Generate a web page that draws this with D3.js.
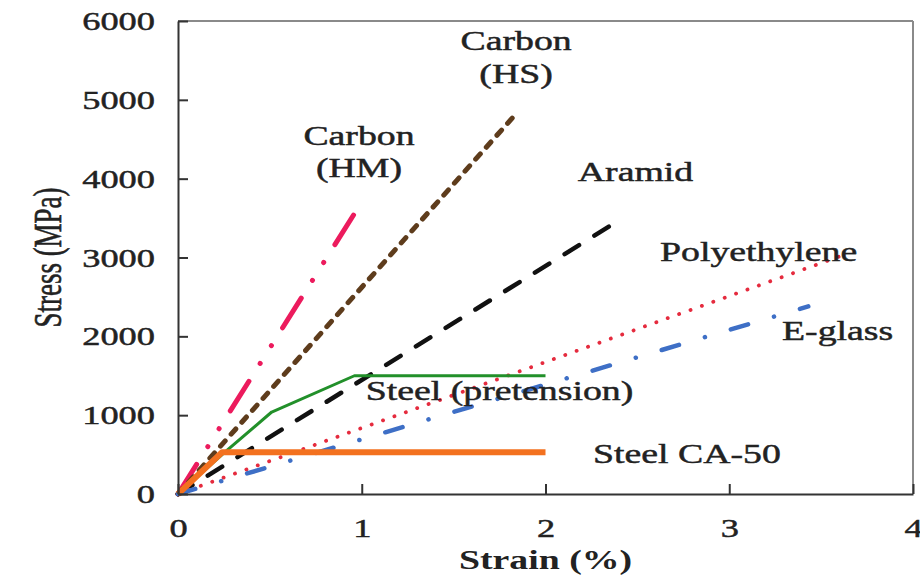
<!doctype html>
<html>
  <head>
    <script src="https://cdnjs.cloudflare.com/ajax/libs/d3/7.8.5/d3.min.js"></script>
    <style>
      body { margin: 0; background: #fff; }
      svg text { font-family: "Liberation Serif", "Times New Roman", serif; fill: #222; }
      text.heavy { stroke: #222; stroke-width: 0.45px; }
    </style>
  </head>
  <body>
    <svg id="chart" width="920" height="577"></svg>
    <script>
      // stress-strain curves, strain in %, stress in MPa
      var carbonHM = [[0, 0], [0.98, 3630]];
      var carbonHS = [[0, 0], [1.85, 4850]];
      var aramid = [[0, 0], [2.42, 3500]];
      var polyethylene = [[0, 0], [3.62, 3030]];
      var eGlass = [[0, 0], [3.43, 2380]];
      var steelPretension = [[0, 0], [0.26, 540], [0.51, 1040], [0.96, 1500], [2.0, 1500]];
      var steelCA50 = [[0, 0], [0.24, 530], [2.0, 530]];

      var xTicks = [0, 1, 2, 3, 4];
      var yTicks = [0, 1000, 2000, 3000, 4000, 5000, 6000];

      // annotation text, anchored in data units (x centre, baseline)
      var labels = [
        {text: "Carbon", x: 1.84, y: 5630},
        {text: "(HS)", x: 1.84, y: 5210},
        {text: "Carbon", x: 0.985, y: 4430},
        {text: "(HM)", x: 0.985, y: 4020},
        {text: "Aramid", x: 2.49, y: 3970},
        {text: "Polyethylene", x: 3.16, y: 2960},
        {text: "E-glass", x: 3.59, y: 1955},
        {text: "Steel (pretension)", x: 1.75, y: 1190},
        {text: "Steel CA-50", x: 2.77, y: 395}
      ];

      var margin = {top: 21, right: 7, bottom: 83, left: 178};
      var width = 920 - margin.left - margin.right,
          height = 577 - margin.top - margin.bottom;
      var stretch = 1.4;

      var svg = d3.select("#chart");
      var g = svg.append("g")
          .attr("transform", `translate(${margin.left},${margin.top})`);

      var x = d3.scaleLinear().domain([0, 4]).range([0, width]);
      var y = d3.scaleLinear().domain([0, 6000]).range([height, 0]);

      // light frame on top and right
      g.append("line")
          .attr("x1", x(0)).attr("x2", x(4))
          .attr("y1", y(6000)).attr("y2", y(6000))
          .style("stroke", "#8a8a8a").style("stroke-width", 2);
      g.append("line")
          .attr("x1", x(4)).attr("x2", x(4))
          .attr("y1", y(0)).attr("y2", y(6000))
          .style("stroke", "#8a8a8a").style("stroke-width", 2);

      var line = d3.line().x(d => x(d[0])).y(d => y(d[1]));

      var series = [
        {data: carbonHM, color: "#ec1b5d", width: 5, dash: "35,21,0.1,21,0.1,21", cap: "round"},
        {data: carbonHS, color: "#5e3c1c", width: 5, dash: "7,9", cap: "round"},
        {data: aramid, color: "#111111", width: 4.5, dash: "17,18", cap: "round"},
        {data: polyethylene, color: "#e52b3e", width: 3.8, dash: "0.1,12", cap: "round"},
        {data: eGlass, color: "#3e6fc6", width: 4.5, dash: "18,27,0.1,27", cap: "round"},
        {data: steelPretension, color: "#22902a", width: 3, dash: null, cap: "butt"},
        {data: steelCA50, color: "#f3711f", width: 6, dash: null, cap: "butt"}
      ];

      g.selectAll("path.series")
        .data(series)
        .enter()
        .append("path")
          .attr("class", "series")
          .attr("d", d => line(d.data))
          .style("fill", "none")
          .style("stroke", d => d.color)
          .style("stroke-width", d => d.width)
          .style("stroke-dasharray", d => d.dash)
          .style("stroke-linecap", d => d.cap)
          .style("stroke-linejoin", "round");

      // axes, ticks pointing inward
      var yAxis = g.append("g")
          .call(d3.axisLeft(y).tickValues(yTicks).tickSizeInner(-10).tickSizeOuter(0).tickFormat(d3.format("d")));
      yAxis.selectAll("text")
          .attr("class", "heavy")
          .attr("x", 0).attr("dy", "0.33em")
          .attr("transform", `translate(-23,0) scale(${stretch},1)`)
          .style("font-size", "26px")
          .style("text-anchor", "end");

      var xAxis = g.append("g")
          .attr("transform", `translate(0,${height})`)
          .call(d3.axisBottom(x).tickValues(xTicks).tickSizeInner(-10).tickSizeOuter(0).tickFormat(d3.format("d")));
      xAxis.selectAll("text")
          .attr("class", "heavy")
          .attr("y", 0).attr("dy", 0)
          .attr("transform", `translate(0,43) scale(${stretch},1)`)
          .style("font-size", "26px");

      [yAxis, xAxis].forEach(a => {
        a.select(".domain").style("stroke", "#333").style("stroke-width", 2);
        a.selectAll(".tick line").style("stroke", "#333").style("stroke-width", 2);
      });

      g.selectAll("text.note")
        .data(labels)
        .enter()
        .append("text")
          .attr("class", "note heavy")
          .attr("transform", d => `translate(${x(d.x)},${y(d.y)}) scale(${stretch},1)`)
          .style("text-anchor", "middle")
          .style("font-size", "27px")
          .text(d => d.text);

      // axis titles
      svg.append("text")
          .attr("transform", `translate(${margin.left + x(2)},569) scale(${stretch},1)`)
          .style("text-anchor", "middle")
          .style("font-size", "27px")
          .style("font-weight", "bold")
          .text("Strain (%)");

      svg.append("text")
          .attr("transform", `translate(61,${margin.top + y(3000)}) rotate(-90) scale(1,1.45)`)
          .style("text-anchor", "middle")
          .style("font-size", "27px")
          .text("Stress (MPa)")
          .attr("class", "heavy");
    </script>
  </body>
</html>
